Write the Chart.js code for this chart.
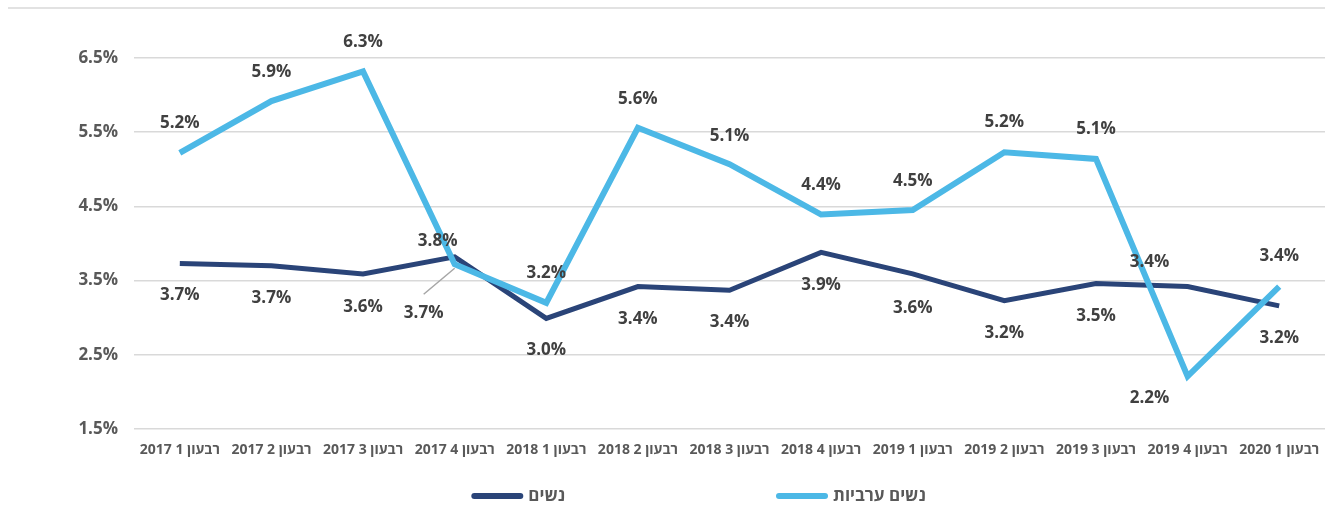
<!DOCTYPE html>
<html lang="he">
<head>
<meta charset="utf-8">
<title>נשים / נשים ערביות</title>
<script src="https://cdn.jsdelivr.net/npm/chart.js@4/dist/chart.umd.min.js"></script>
<style>
  body { margin: 0; background: #fff; }
  #wrap { width: 1325px; height: 516px; }
</style>
</head>
<body>
<div id="wrap"><canvas id="chart" width="1325" height="516"></canvas></div>
<script>
var quarters = ['רבעון 1 2017', 'רבעון 2 2017', 'רבעון 3 2017', 'רבעון 4 2017',
  'רבעון 1 2018', 'רבעון 2 2018', 'רבעון 3 2018', 'רבעון 4 2018',
  'רבעון 1 2019', 'רבעון 2 2019', 'רבעון 3 2019', 'רבעון 4 2019', 'רבעון 1 2020'];
var womenValues = [3.73, 3.70, 3.59, 3.82, 2.99, 3.42, 3.37, 3.88, 3.59, 3.23, 3.46, 3.42, 3.16];
var arabWomenValues = [5.22, 5.92, 6.32, 3.72, 3.20, 5.56, 5.07, 4.39, 4.45, 5.23, 5.14, 2.21, 3.42];
var yTicks = [1.5, 2.5, 3.5, 4.5, 5.5, 6.5];

var DARK = '#2a4478', LIGHT = '#4cb8e6';
var FONT = "'Open Sans', 'DejaVu Sans', sans-serif";

// label placement, like the hand-moved labels of the original
var labelPlacement = {
  women: [[0,32],[0,32],[0,33],[-17,-16],[0,32],[0,33],[0,32],[0,33],[0,34],[0,33],[0,33],[-38,-24],[0,32]],
  arab: [[0,-30],[0,-29],[0,-29],[-31,49,'leader'],[0,-30],[0,-29],[0,-28],[0,-29],[0,-29],[0,-30],[0,-30],[-38,22],[0,-30]]
};

var topRule = {
  id: 'topRule',
  beforeDraw: function(chart) {
    var ctx = chart.ctx;
    ctx.save();
    ctx.strokeStyle = '#d9d9d9';
    ctx.lineWidth = 1.5;
    ctx.beginPath();
    ctx.moveTo(8, 8);
    ctx.lineTo(chart.width, 8);
    ctx.stroke();
    ctx.restore();
  }
};

var pointLabels = {
  id: 'pointLabels',
  afterDatasetsDraw: function(chart) {
    var ctx = chart.ctx;
    ctx.save();
    ctx.font = 'bold 17px ' + FONT;
    ctx.fillStyle = '#404040';
    ctx.textAlign = 'center';
    ctx.textBaseline = 'middle';
    chart.data.datasets.forEach(function(ds, i) {
      var meta = chart.getDatasetMeta(i);
      var place = labelPlacement[ds.key];
      meta.data.forEach(function(pt, j) {
        var p = place[j];
        var x = pt.x + p[0], y = pt.y + p[1];
        if (p[2] === 'leader') {
          ctx.save();
          ctx.strokeStyle = '#a6a6a6';
          ctx.lineWidth = 1.5;
          ctx.beginPath();
          ctx.moveTo(x, y - 19);
          ctx.lineTo(pt.x, pt.y + 4);
          ctx.stroke();
          ctx.restore();
        }
        ctx.fillText(ds.data[j].toFixed(1) + '%', x, y);
      });
    });
    ctx.restore();
  }
};

var bottomLegend = {
  id: 'bottomLegend',
  afterDraw: function(chart) {
    var ctx = chart.ctx;
    var y = 496, lineLen = 52, gapText = 5, gapItems = 211;
    ctx.save();
    ctx.font = 'bold 17px ' + FONT;
    ctx.textBaseline = 'middle';
    ctx.textAlign = 'left';
    var items = chart.data.datasets.map(function(ds) {
      return { text: ds.label, color: ds.borderColor, w: ctx.measureText(ds.label).width };
    });
    var total = 0;
    items.forEach(function(it, i) {
      total += lineLen + gapText + it.w + (i > 0 ? gapItems : 0);
    });
    var x = chart.width / 2 + 36 - total / 2;
    items.forEach(function(it) {
      ctx.strokeStyle = it.color;
      ctx.lineWidth = 6;
      ctx.lineCap = 'round';
      ctx.beginPath();
      ctx.moveTo(x + 3, y);
      ctx.lineTo(x + lineLen - 3, y);
      ctx.stroke();
      ctx.fillStyle = '#595959';
      ctx.fillText(it.text, x + lineLen + gapText, y);
      x += lineLen + gapText + it.w + gapItems;
    });
    ctx.restore();
  }
};

new Chart(document.getElementById('chart'), {
  type: 'line',
  data: {
    labels: quarters,
    datasets: [{
      key: 'women',
      label: 'נשים',
      data: womenValues,
      borderColor: DARK,
      backgroundColor: DARK,
      borderWidth: 5,
      pointRadius: 0,
      tension: 0,
      order: 1
    }, {
      key: 'arab',
      label: 'נשים ערביות',
      data: arabWomenValues,
      borderColor: LIGHT,
      backgroundColor: LIGHT,
      borderWidth: 6,
      pointRadius: 0,
      tension: 0,
      order: 0
    }]
  },
  options: {
    responsive: false,
    devicePixelRatio: 1,
    animation: false,
    layout: { padding: { top: 58, right: -3, bottom: 50, left: 0 } },
    scales: {
      x: {
        offset: true,
        grid: { display: false },
        border: { display: false },
        ticks: {
          color: '#595959',
          font: { family: FONT, size: 14, weight: 'bold' },
          padding: 5,
          maxRotation: 0,
          autoSkip: false
        },
        afterFit: function(scale) {
          scale.height = 37;
          scale.paddingLeft = 0;
          scale.paddingRight = 0;
        }
      },
      y: {
        min: 1.5,
        max: 6.5,
        afterBuildTicks: function(scale) {
          scale.ticks = yTicks.map(function(v) { return { value: v }; });
        },
        grid: { color: '#d9d9d9', lineWidth: 1.5, drawTicks: false },
        border: { display: false },
        ticks: {
          color: '#595959',
          font: { family: FONT, size: 17, weight: 'bold' },
          padding: 16,
          callback: function(v) { return v.toFixed(1) + '%'; }
        },
        afterFit: function(scale) { scale.width = 134; }
      }
    },
    plugins: {
      legend: { display: false },
      tooltip: { enabled: false }
    }
  },
  plugins: [topRule, pointLabels, bottomLegend]
});
</script>
</body>
</html>
